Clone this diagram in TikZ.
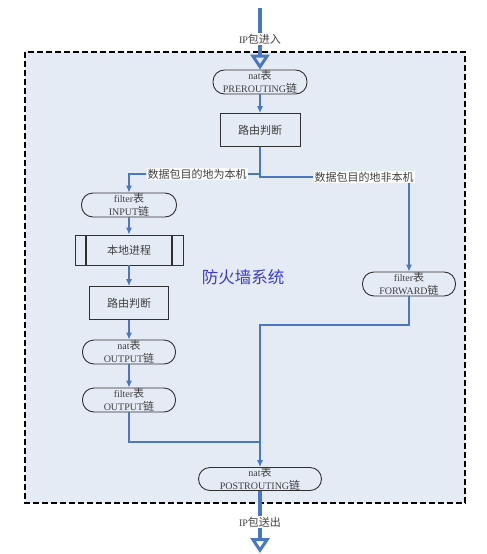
\documentclass[tikz,border=0pt]{standalone}
\usepackage{fontspec}
\setmainfont{Liberation Serif}
\newfontfamily\cjkfont[Scale=1.1]{Noto Sans CJK SC}
\usetikzlibrary{arrows.meta, positioning}

\definecolor{flowblue}{HTML}{4A78C0}
\definecolor{panelfill}{HTML}{E5EBF5}
\definecolor{boxline}{HTML}{303030}
\definecolor{textgray}{HTML}{404040}
\definecolor{titleblue}{HTML}{3A3AD0}
\newcommand{\zh}[1]{{\cjkfont #1}}

\begin{document}
\begin{tikzpicture}[
    x=1pt, y=-1pt,
    >=Latex, % Set default arrow tip style
    flow/.style={-{Latex[length=7pt, width=6pt]}, draw=flowblue, line width=1.1pt}, % Style for thin connectors
    bigflow/.style={-{Triangle[open, length=15pt, width=19pt, line width=3pt]}, draw=flowblue, line width=4.5pt}, % Style for entry and exit
    chain/.style={draw=boxline, line width=0.9pt, rounded corners=11.5pt, minimum width=#1, minimum height=24pt, inner sep=0pt, align=center, text=textgray, font=\fontsize{10}{12.5}\selectfont}, % Style for chains
    stepbox/.style={draw=boxline, line width=0.9pt, minimum width=#1, minimum height=33pt, inner sep=0pt, text=textgray, font=\fontsize{10}{12}\selectfont}, % Style for steps
    labelstyle/.style={fill=white, inner sep=1pt, text=textgray, font=\fontsize{10}{12}\selectfont} % Style for labels
]
    \useasboundingbox (0,0) rectangle (487,554);

    % Firewall panel
    \fill[panelfill] (25,52) rectangle (465,503);
    \draw[black, line width=1.1pt, dash pattern=on 6pt off 3pt] (25,52) rectangle (465,503);
    \node[text=titleblue, font=\fontsize{15}{18}\selectfont] (title) at (243,277) {\zh{防火墙系统}};

    % Key points
    \coordinate (inlet) at (260,8);
    \coordinate (outlet) at (260,553);
    \coordinate (bendF) at (260,325);
    \coordinate (merge) at (260,442);

    % Chains and steps
    \node[chain=94pt] (pre) at (260,82) {nat\zh{表}\\PREROUTING\zh{链}};
    \node[stepbox=80pt] (route1) at (260,130) {\zh{路由判断}};
    \node[chain=95pt] (input) at (129,205) {filter\zh{表}\\INPUT\zh{链}};
    \node[stepbox=108pt, minimum height=30pt,
        path picture={
            \draw[boxline, line width=1.3pt] ([xshift=11pt]path picture bounding box.north west) -- ([xshift=11pt]path picture bounding box.south west);
            \draw[boxline, line width=1.3pt] ([xshift=-11pt]path picture bounding box.north east) -- ([xshift=-11pt]path picture bounding box.south east);
        }] (local) at (129,250) {\zh{本地进程}};
    \node[stepbox=79pt] (route2) at (129,303) {\zh{路由判断}};
    \node[chain=93pt] (natout) at (129,352) {nat\zh{表}\\OUTPUT\zh{链}};
    \node[chain=93pt] (filterout) at (129,400) {filter\zh{表}\\OUTPUT\zh{链}};
    \node[chain=93pt] (forward) at (409,284) {filter\zh{表}\\FORWARD\zh{链}};
    \node[chain=123pt, minimum height=23pt] (post) at (260,479) {nat\zh{表}\\POSTROUTING\zh{链}};

    % Branch labels
    \node[labelstyle] (tolocal) at (197,174) {\zh{数据包目的地为本机}};
    \node[labelstyle] (toforward) at (364,177) {\zh{数据包目的地非本机}};

    % Entry and exit
    \draw[bigflow] (inlet) -- node[labelstyle] (inlbl) {IP\zh{包进入}} (pre);
    \draw[bigflow] (post) -- node[labelstyle] (outlbl) {IP\zh{包送出}} (outlet);

    % Connectors
    \draw[flow] (pre) -- (route1);
    \draw[flow, -] (route1) |- (tolocal);
    \draw[flow] (tolocal) -| (input);
    \draw[flow, -] (route1) |- (toforward);
    \draw[flow] (toforward.south -| forward.north) -- (forward);
    \draw[flow] (input) -- (local);
    \draw[flow] (local) -- (route2);
    \draw[flow] (route2) -- (natout);
    \draw[flow] (natout) -- (filterout);
    \draw[flow] (forward) |- (bendF) -- (post);
    \draw[flow, -] (filterout) |- (merge);

\end{tikzpicture}
\end{document}
